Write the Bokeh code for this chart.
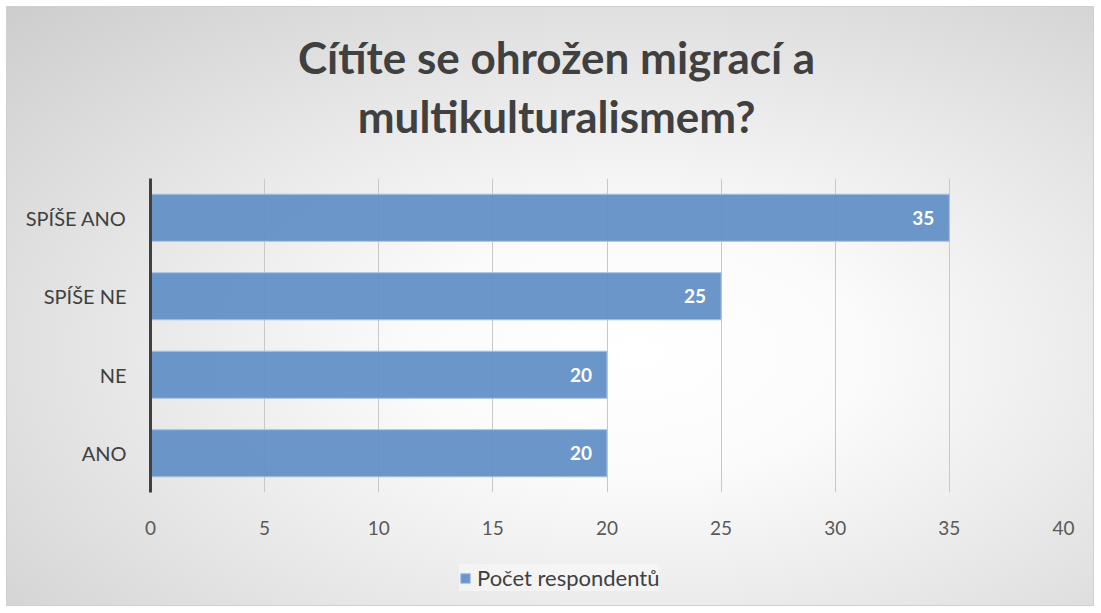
from bokeh.plotting import figure
from bokeh.layouts import column
from bokeh.models import (ColumnDataSource, FactorRange, LabelSet, Legend, LegendItem, Label,
                          Range1d, SingleIntervalTicker)
from bokeh.core.properties import value
from bokeh.embed import file_html
from bokeh.resources import INLINE

categories = ["ANO", "NE", "SPÍŠE NE", "SPÍŠE ANO"]
counts = [20, 20, 25, 35]
series_name = "Počet respondentů"
title_lines = ["Cítíte se ohrožen migrací a", "multikulturalismem?"]

BAR_FILL = "#6390c7"
BAR_LINE = "#a9c2e2"
FONT = "Lato"
W = 1086


def bare_figure(h, xr, yr):
    fig = figure(width=W, height=h, output_backend="svg", toolbar_location=None,
                 x_range=xr, y_range=yr, min_border=0,
                 x_axis_location=None, y_axis_location=None)
    fig.grid.visible = False
    fig.background_fill_color = None
    fig.border_fill_color = None
    fig.outline_line_color = None
    return fig


# --- title block ---
pt = bare_figure(171, Range1d(0, W), Range1d(171, 0))
for txt, yy in zip(title_lines, [49, 108]):
    pt.add_layout(Label(x=483, y=yy, text=txt, text_align="center", text_baseline="middle",
                        text_font=FONT, text_font_style="bold", text_font_size="44px",
                        text_color="#404040"))

# --- main chart ---
src = ColumnDataSource(dict(cat=categories, val=counts, lab=[str(v) for v in counts]))
p = figure(width=W, height=372, output_backend="svg", toolbar_location=None,
           y_range=FactorRange(*categories), x_range=(0, 40),
           min_border_left=143, min_border_right=30, min_border_top=0, min_border_bottom=58)
p.background_fill_color = None
p.border_fill_color = None
p.outline_line_color = None

r = p.hbar(y="cat", right="val", left=0, height=0.6, source=src,
           fill_color=BAR_FILL, fill_alpha=0.95, line_color=BAR_LINE, line_width=1)

p.add_layout(LabelSet(x="val", y="cat", text="lab", source=src, x_offset=-15,
                      text_align="right", text_baseline="middle", text_color="white",
                      text_font=value(FONT), text_font_style="bold", text_font_size="19px"))

p.xaxis.ticker = SingleIntervalTicker(interval=5)
p.xaxis.axis_line_color = None
p.xaxis.major_tick_line_color = None
p.xaxis.minor_tick_line_color = None
p.xaxis.major_label_standoff = 22
p.xaxis.major_label_text_font = FONT
p.xaxis.major_label_text_font_size = "19px"
p.xaxis.major_label_text_color = "#595959"

p.yaxis.axis_line_color = "#404040"
p.yaxis.axis_line_width = 3
p.yaxis.major_tick_line_color = None
p.yaxis.minor_tick_line_color = None
p.yaxis.major_label_standoff = 18
p.yaxis.major_label_text_font = FONT
p.yaxis.major_label_text_font_size = "20px"
p.yaxis.major_label_text_color = "#404040"

p.xgrid.grid_line_color = "#c8c8c8"
p.ygrid.grid_line_color = None

# --- legend block (glyph renderer kept outside the visible range) ---
pl = bare_figure(55, Range1d(0, 1), Range1d(0, 1))
lr = pl.hbar(y=[-5], right=[-5], left=-6, height=0.6,
             fill_color=BAR_FILL, fill_alpha=0.95, line_color=BAR_LINE, line_width=1)
legend = Legend(items=[LegendItem(label=series_name, renderers=[lr])], location=(309, 14),
                orientation="horizontal", label_text_font=FONT, label_text_font_size="22px",
                label_text_color="#404040", glyph_width=12, glyph_height=12,
                label_standoff=6,
                background_fill_color="#f8f8f8", background_fill_alpha=0.6,
                border_line_color=None, padding=10, margin=0)
pl.add_layout(legend, "center")

layout = column(pt, p, pl, spacing=0)
layout.styles = {"background-image": "radial-gradient(ellipse farthest-corner at 58% 58%, #ffffff 0%, #fbfbfb 25%, #e6e6e6 60%, #cdcdcd 100%)",
                 "outline": "1px solid #d0d0d0", "margin-left": "7px", "margin-top": "7px"}

open("out.html", "w").write(file_html(layout, INLINE))
